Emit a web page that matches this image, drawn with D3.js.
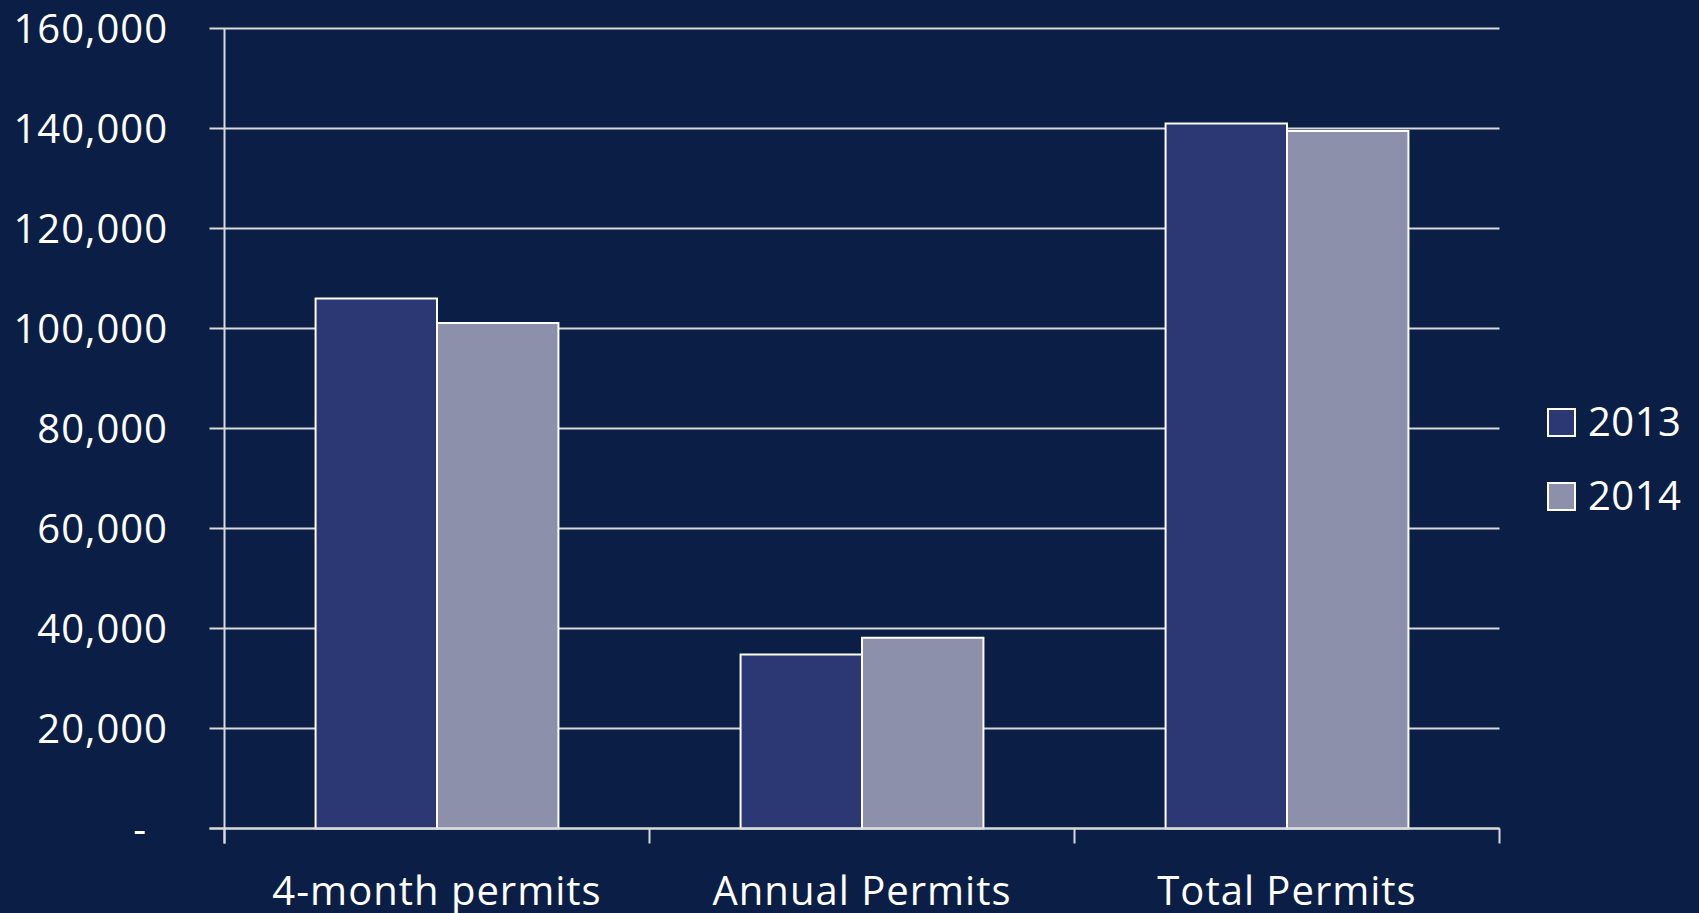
<!DOCTYPE html>
<html>
<head>
<meta charset="utf-8">
<script src="https://cdn.jsdelivr.net/npm/d3@7"></script>
<style>
  html, body { margin: 0; padding: 0; background: #0b1f46; }
  svg { display: block; }
  text { font-family: "Open Sans", sans-serif; fill: #ffffff; }
</style>
</head>
<body>
<script>
// chart data
var categories = ['4-month permits', 'Annual Permits', 'Total Permits'];
var years = ['2013', '2014'];
var values2013 = [106000, 34800, 141000];
var values2014 = [101100, 38150, 139500];
var yTicks = [0, 20000, 40000, 60000, 80000, 100000, 120000, 140000, 160000];

var width = 1699, height = 913;
// note: "top" is taken by window.top, so use plot* names
var plotLeft = 224.5, plotRight = 1499.5, plotTop = 28.5, plotBottom = 828.5;
var colors = { '2013': '#2b3873', '2014': '#8c90ab' };

var svg = d3.select('body').append('svg').attr('width', width).attr('height', height);

var x = d3.scaleBand().domain(categories).range([plotLeft, plotRight]).paddingInner(0).paddingOuter(0);
var xInner = d3.scaleBand().domain(years).range([0, x.bandwidth()]).paddingOuter(0.75).paddingInner(0);
var y = d3.scaleLinear().domain([0, 160000]).range([plotBottom, plotTop]);

// gridlines + left ticks
svg.append('g').selectAll('line')
   .data(yTicks)
   .enter()
   .append('line')
   .attr('x1', plotLeft - 15)
   .attr('x2', plotRight)
   .attr('y1', function (d) { return y(d); })
   .attr('y2', function (d) { return y(d); })
   .attr('stroke', '#d9d9d9')
   .attr('stroke-width', 2);

// y axis line
svg.append('line')
   .attr('x1', plotLeft).attr('x2', plotLeft)
   .attr('y1', plotTop).attr('y2', plotBottom + 15)
   .attr('stroke', '#d9d9d9')
   .attr('stroke-width', 2);

// y labels
svg.append('g').selectAll('text')
   .data(yTicks)
   .enter()
   .append('text')
   .attr('x', function (d) { return d === 0 ? 147 : 168; })
   .attr('y', function (d) { return y(d) + 14.5; })
   .attr('text-anchor', 'end')
   .style('font-size', '40px')
   .style('letter-spacing', '1px')
   .text(function (d) { return d === 0 ? '-' : d3.format(',')(d); });

// bars
var rows = categories.map(function (c, i) {
  return { cat: c, vals: [{ year: '2013', v: values2013[i] }, { year: '2014', v: values2014[i] }] };
});

var groups = svg.append('g').selectAll('g')
   .data(rows)
   .enter()
   .append('g')
   .attr('transform', function (d) { return 'translate(' + x(d.cat) + ',0)'; });

groups.selectAll('rect')
   .data(function (d) { return d.vals; })
   .enter()
   .append('rect')
   .attr('x', function (d) { return xInner(d.year); })
   .attr('width', xInner.bandwidth())
   .attr('y', function (d) { return y(d.v); })
   .attr('height', function (d) { return plotBottom - y(d.v); })
   .attr('fill', function (d) { return colors[d.year]; })
   .attr('stroke', '#ffffff')
   .attr('stroke-width', 2);

// x axis line and ticks
svg.append('line')
   .attr('x1', plotLeft - 15).attr('x2', plotRight)
   .attr('y1', plotBottom).attr('y2', plotBottom)
   .attr('stroke', '#d9d9d9')
   .attr('stroke-width', 2);

var boundaries = categories.map(function (c) { return x(c); }).concat([plotRight]);
svg.append('g').selectAll('line')
   .data(boundaries)
   .enter()
   .append('line')
   .attr('x1', function (d) { return d; })
   .attr('x2', function (d) { return d; })
   .attr('y1', plotBottom)
   .attr('y2', plotBottom + 15)
   .attr('stroke', '#d9d9d9')
   .attr('stroke-width', 2);

// x labels
svg.append('g').selectAll('text')
   .data(categories)
   .enter()
   .append('text')
   .attr('x', function (d) { return x(d) + x.bandwidth() / 2; })
   .attr('y', 905)
   .attr('text-anchor', 'middle')
   .style('font-size', '40px')
   .style('letter-spacing', '1px')
   .text(function (d) { return d; });

// legend
var legend = svg.append('g').selectAll('g')
   .data(years)
   .enter()
   .append('g')
   .attr('transform', function (d, i) { return 'translate(1548,' + (409 + i * 74) + ')'; });

legend.append('rect')
   .attr('width', 27).attr('height', 27)
   .attr('fill', function (d) { return colors[d]; })
   .attr('stroke', '#ffffff')
   .attr('stroke-width', 2);

legend.append('text')
   .attr('x', 40)
   .attr('y', 27)
   .style('font-size', '40px')
   .style('letter-spacing', '0.5px')
   .text(function (d) { return d; });
</script>
</body>
</html>
